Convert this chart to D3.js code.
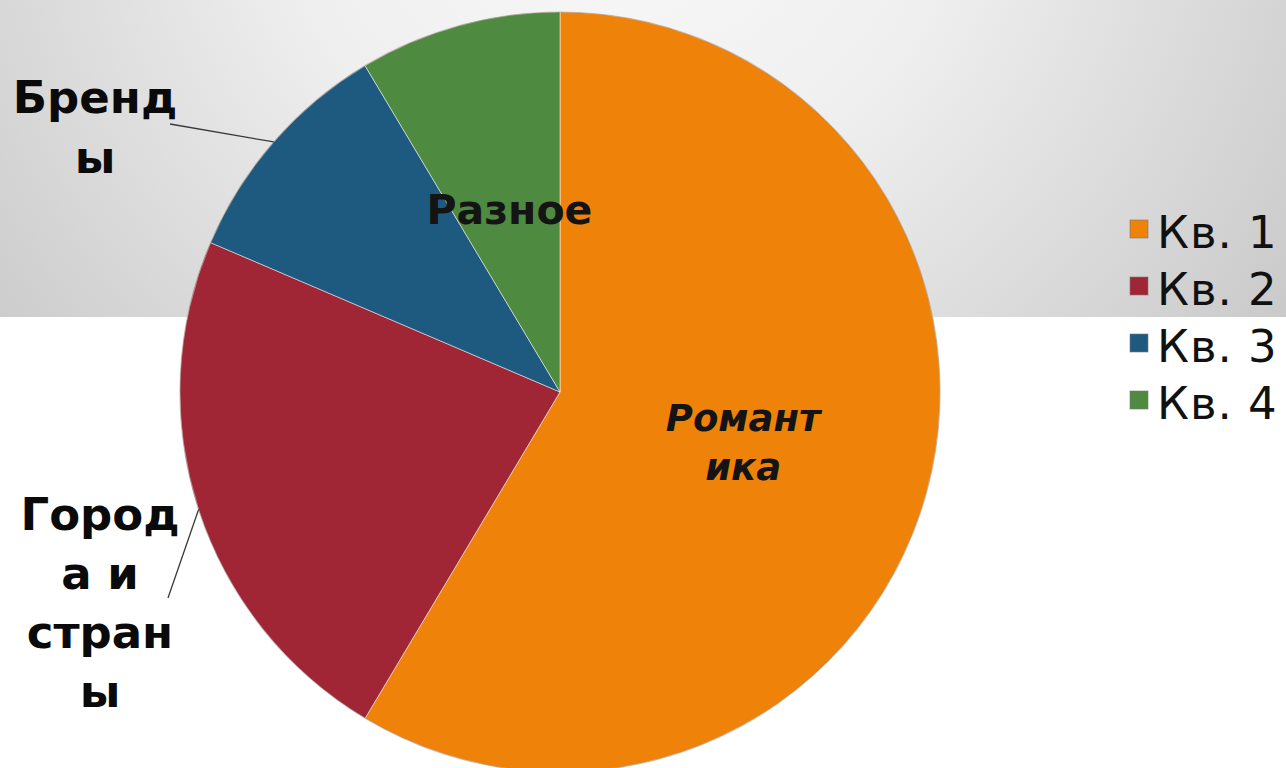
<!DOCTYPE html>
<html>
<head>
<meta charset="utf-8">
<script src="https://cdn.jsdelivr.net/npm/d3@7"></script>
<style>
  html, body { margin: 0; padding: 0; background: #ffffff; }
  svg { display: block; }
</style>
</head>
<body>
<svg id="chart" width="1286" height="768"></svg>
<script>
// ---- data ----
const categories = ["Кв. 1", "Кв. 2", "Кв. 3", "Кв. 4"];
const values = [8.2, 3.2, 1.4, 1.2];
const sliceLabels = [["Романт", "ика"], ["Город", "а и", "стран", "ы"], ["Бренд", "ы"], ["Разное"]];
const colors = ["#EF8209", "#A02636", "#1E5A7F", "#4E8A3F"];

// ---- layout ----
const W = 1286, H = 768;
const cx = 560, cy = 392, R = 380;
const bandH = 317;

const svg = d3.select("#chart");
const defs = svg.append("defs");
const grad = defs.append("radialGradient")
  .attr("id", "bg").attr("gradientUnits", "userSpaceOnUse")
  .attr("cx", 620).attr("cy", -150).attr("r", 860);
grad.append("stop").attr("offset", 0).attr("stop-color", "#fafafa");
grad.append("stop").attr("offset", 0.4).attr("stop-color", "#efefef");
grad.append("stop").attr("offset", 1).attr("stop-color", "#c6c6c6");

svg.append("rect").attr("x", 0).attr("y", 0).attr("width", W).attr("height", bandH)
  .attr("fill", "url(#bg)");

const data = categories.map((c, i) => ({ cat: c, value: values[i], label: sliceLabels[i], color: colors[i] }));

const pie = d3.pie().value(d => d.value).sort(null);
const arcs = pie(data);
const arc = d3.arc().innerRadius(0).outerRadius(R);

const g = svg.append("g").attr("transform", `translate(${cx},${cy})`);

g.selectAll("path.slice").data(arcs).enter().append("path")
  .attr("class", "slice")
  .attr("d", arc)
  .attr("fill", d => d.data.color)
  .attr("stroke", "rgba(255,255,255,0.5)")
  .attr("stroke-width", 1);

// faint outer rim
g.append("circle").attr("r", R).attr("fill", "none")
  .attr("stroke", "rgba(90,60,40,0.3)").attr("stroke-width", 1.2);

const font = "Verdana, 'DejaVu Sans', sans-serif";

// inside labels (Кв. 1, Кв. 4) at centroid
const inside = [
  { i: 0, size: 37, italic: true, lh: 49 },
  { i: 3, size: 41, italic: false, lh: 49 }
];
inside.forEach(o => {
  const c = arc.centroid(arcs[o.i]);
  const lines = arcs[o.i].data.label;
  const t = g.append("text")
    .attr("text-anchor", "middle")
    .attr("font-family", font)
    .attr("font-weight", "bold")
    .attr("font-style", o.italic ? "italic" : "normal")
    .attr("font-size", o.size)
    .attr("fill", "#141414");
  const n = lines.length;
  lines.forEach((ln, k) => {
    t.append("tspan").attr("x", c[0])
      .attr("y", c[1] + (k - (n - 1) / 2) * o.lh)
      .attr("dy", "0.36em").text(ln);
  });
});

// outside labels with leader lines
const outside = [
  { i: 2, tx: 95, ty: 113, lh: 60, lineEnd: [170, 124] },
  { i: 1, tx: 100, ty: 530, lh: 59, lineEnd: [168, 598] }
];
outside.forEach(o => {
  const a = arcs[o.i];
  const mid = (a.startAngle + a.endAngle) / 2;
  const px = cx + R * Math.sin(mid), py = cy - R * Math.cos(mid);
  svg.append("line")
    .attr("x1", px).attr("y1", py)
    .attr("x2", o.lineEnd[0]).attr("y2", o.lineEnd[1])
    .attr("stroke", "#3a3a3a").attr("stroke-width", 1.3);
  const t = svg.append("text")
    .attr("text-anchor", "middle")
    .attr("font-family", font)
    .attr("font-weight", "bold")
    .attr("font-size", 45)
    .attr("fill", "#0a0a0a");
  a.data.label.forEach((ln, k) => {
    t.append("tspan").attr("x", o.tx).attr("y", o.ty + k * o.lh).text(ln);
  });
});

// legend
const legend = svg.append("g");
const legY0 = 248, legStep = 57, legX = 1130;
categories.forEach((c, i) => {
  const y = legY0 + i * legStep;
  legend.append("rect")
    .attr("x", legX).attr("y", y - 28).attr("width", 18).attr("height", 18)
    .attr("fill", colors[i]).attr("stroke", "rgba(120,120,120,0.6)").attr("stroke-width", 1);
  legend.append("text")
    .attr("x", legX + 27).attr("y", y)
    .attr("font-family", font)
    .attr("font-size", 45)
    .attr("letter-spacing", 1)
    .attr("fill", "#111")
    .text(c);
});
</script>
</body>
</html>
